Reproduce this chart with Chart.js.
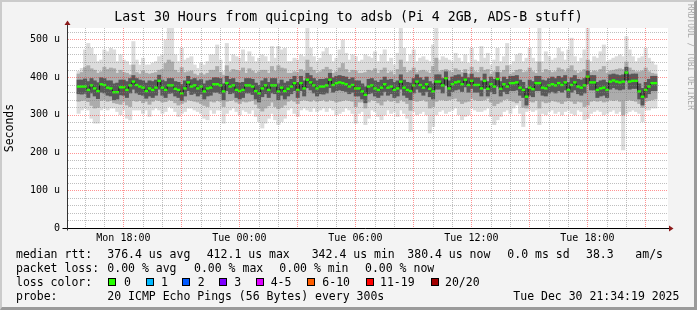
<!DOCTYPE html>
<html><head><meta charset="utf-8">
<script src="https://cdn.jsdelivr.net/npm/chart.js@4.4.1/dist/chart.umd.min.js"></script>
<style>
html,body{margin:0;padding:0;background:#f3f3f3;}
#wrap{position:relative;width:697px;height:310px;background:#f3f3f3;overflow:hidden;}
#frame{position:absolute;left:0;top:0;width:697px;height:310px;box-sizing:border-box;border-top:2px solid #cbcbcb;border-left:2px solid #cbcbcb;border-right:3px solid #9a9a9a;border-bottom:3px solid #9a9a9a;}
#c{position:absolute;left:0;top:0;}
.t{position:absolute;font-family:'DejaVu Sans Mono',monospace;font-size:11.5px;line-height:14px;white-space:pre;color:#000;}
.b{position:absolute;width:8px;height:8px;box-sizing:border-box;border:1px solid #000;}
#rrd{position:absolute;left:685px;top:4px;writing-mode:vertical-rl;font-family:'DejaVu Sans Mono',monospace;font-size:8px;line-height:10px;color:#a8a8a8;white-space:pre;}
</style></head>
<body>
<div id="wrap">
<div id="frame"></div>
<canvas id="c" width="697" height="310" style="width:697px;height:310px"></canvas>
<div id="rrd">RRDTOOL / TOBI OETIKER</div>
<span class="t" style="left:16px;top:247px">median rtt:</span>
<span class="t" style="left:107.3px;top:247px">376.4 us avg</span>
<span class="t" style="left:206.7px;top:247px">412.1 us max</span>
<span class="t" style="left:311.7px;top:247px">342.4 us min</span>
<span class="t" style="left:407.3px;top:247px">380.4 us now</span>
<span class="t" style="left:507.3px;top:247px">0.0 ms sd</span>
<span class="t" style="left:586px;top:247px">38.3</span>
<span class="t" style="left:635.3px;top:247px">am/s</span>
<span class="t" style="left:16px;top:261px">packet loss:</span>
<span class="t" style="left:107.3px;top:261px">0.00 % avg</span>
<span class="t" style="left:194px;top:261px">0.00 % max</span>
<span class="t" style="left:279.3px;top:261px">0.00 % min</span>
<span class="t" style="left:365px;top:261px">0.00 % now</span>
<span class="t" style="left:16px;top:275px">loss color:</span>
<span class="b" style="left:108px;top:278px;background:#26ff00"></span><span class="t" style="left:124px;top:275px">0</span>
<span class="b" style="left:145.5px;top:278px;background:#00b8ff"></span><span class="t" style="left:161px;top:275px">1</span>
<span class="b" style="left:182px;top:278px;background:#0059ff"></span><span class="t" style="left:197.7px;top:275px">2</span>
<span class="b" style="left:219px;top:278px;background:#7e00ff"></span><span class="t" style="left:234.3px;top:275px">3</span>
<span class="b" style="left:255.5px;top:278px;background:#dd00ff"></span><span class="t" style="left:270.7px;top:275px">4-5</span>
<span class="b" style="left:307px;top:278px;background:#ff5e00"></span><span class="t" style="left:322.3px;top:275px">6-10</span>
<span class="b" style="left:365.5px;top:278px;background:#ff0000"></span><span class="t" style="left:380px;top:275px">11-19</span>
<span class="b" style="left:431px;top:278px;background:#a10000"></span><span class="t" style="left:445px;top:275px">20/20</span>
<span class="t" style="left:16px;top:289px">probe:</span>
<span class="t" style="left:107.3px;top:289px">20 ICMP Echo Pings (56 Bytes) every 300s</span>
<span class="t" style="left:513.3px;top:289px">Tue Dec 30 21:34:19 2025</span>
</div>
<script>
// time axis: hours since Mon 00:00
const START = 15.6;   // Mon 15:36
const HOURS = 30;
const STEP = 1/6;     // 10 minute intervals
const xTickValues = [18, 24, 30, 36, 42];
const xTickLabels = ['Mon 18:00', 'Tue 00:00', 'Tue 06:00', 'Tue 12:00', 'Tue 18:00'];
const yTickValues = [0, 100, 200, 300, 400, 500];
const yTickLabels = ['0', '100 u', '200 u', '300 u', '400 u', '500 u'];

// median RTT (microseconds)
const median = [
375,375,375,366,378,370,363,381,379,372,370,360,360,373,373,366,378,388,379,375,372,363,370,366,372,390,372,366,378,378,369,366,357,370,386,375,378,370,375,362,370,372,381,381,378,
362,384,375,378,366,363,366,378,378,375,363,357,370,378,366,378,378,362,372,363,369,375,384,366,384,370,393,386,378,370,375,375,378,393,379,384,386,384,381,375,379,370,370,362,353,
375,378,370,366,372,381,372,375,366,370,388,372,366,363,378,388,379,372,381,369,362,388,388,378,397,370,381,386,388,381,393,379,390,379,379,370,390,369,381,375,395,369,381,375,384,
384,386,372,366,348,372,368,384,384,372,370,378,381,378,384,379,386,366,379,386,375,372,378,401,386,386,366,370,372,366,388,391,388,386,388,412,388,390,390,362,348,366,375,384,384];

// smoke: outer (min/max)
const lightHi = [
415,423,472,489,476,459,441,445,472,467,476,472,441,459,445,441,432,494,445,432,450,432,432,437,441,454,459,498,530,530,459,441,476,445,450,454,432,423,437,432,441,459,459,485,445,
415,489,441,459,454,450,472,441,467,454,441,450,459,454,441,481,450,481,472,476,441,441,450,445,459,454,530,476,454,441,450,467,476,459,441,450,472,498,463,445,459,454,441,445,459,
454,450,467,441,459,472,441,450,432,463,530,476,441,459,472,441,450,454,445,441,485,530,445,454,450,445,441,463,450,441,459,437,476,445,441,481,450,463,432,445,476,441,454,489,432,
441,459,463,441,450,476,450,441,530,441,467,454,445,450,476,467,445,472,503,454,441,450,472,530,441,454,450,467,485,441,445,450,454,459,454,507,472,454,441,450,454,476,450,441,432];
const lightLo = [
304,313,318,313,291,278,278,313,318,313,318,318,309,300,313,291,287,313,313,313,304,313,296,313,318,313,304,309,322,318,309,296,304,309,318,318,313,309,304,291,287,313,304,313,313,
278,304,313,318,309,300,313,309,304,313,296,282,265,278,291,304,287,274,282,291,313,318,304,296,313,318,313,309,318,309,313,318,309,318,313,300,304,309,318,313,304,278,304,309,274,
291,313,309,296,287,300,313,304,309,296,313,304,291,256,309,300,304,309,300,252,269,300,309,313,304,309,313,318,300,287,296,300,318,313,309,309,313,318,296,274,287,296,309,313,304,
318,326,304,269,309,313,309,313,274,304,300,309,313,304,309,300,309,313,304,300,313,309,287,291,304,309,313,309,300,304,309,313,304,309,207,304,309,313,309,304,282,313,313,318,318];

// smoke: middle
const midHi = [
408,412,425,430,422,418,410,414,426,420,424,422,410,418,412,410,406,432,412,408,416,410,408,410,412,418,420,436,445,440,418,412,425,412,414,416,408,404,410,406,410,418,418,428,412,
405,430,414,420,418,415,424,410,422,416,410,414,418,418,410,428,416,430,424,422,410,410,414,412,420,416,445,426,418,410,414,420,426,420,410,414,424,436,420,412,418,416,410,410,412,
418,416,422,410,418,424,410,414,406,420,445,426,412,416,424,412,416,418,414,410,428,450,414,418,420,416,412,422,418,412,420,408,426,414,412,426,418,420,408,414,428,412,418,430,408,
412,418,420,412,414,424,414,410,440,412,420,416,412,414,424,420,414,422,430,416,410,414,420,445,412,416,414,420,428,410,416,418,420,422,420,440,424,418,414,414,416,424,414,410,408];
const midLo = [
336,338,340,335,325,318,320,338,340,336,338,332,330,328,336,326,322,338,336,338,332,336,328,336,340,338,334,335,340,338,332,326,330,334,340,338,336,334,330,325,322,336,334,338,336,
322,336,338,340,334,330,336,334,336,338,328,318,310,318,324,334,322,316,320,326,336,340,336,330,338,340,338,336,340,336,338,340,336,340,338,334,336,338,340,338,336,322,334,334,318,
334,340,338,332,326,336,340,336,338,332,340,336,330,312,338,336,338,340,336,318,322,336,340,340,338,340,342,344,336,330,334,336,344,340,338,338,340,344,334,324,330,334,340,342,338,
336,332,338,320,318,336,334,338,318,336,332,334,338,336,334,330,336,338,336,330,336,334,322,326,336,338,336,338,334,336,340,338,340,336,300,338,340,338,336,330,320,336,338,340,342];

// smoke: inner (dark)
const darkHi = [
392,392,395,388,396,390,385,398,396,390,390,382,384,392,392,388,396,404,396,392,390,384,390,388,392,405,392,388,396,396,388,386,380,390,402,393,396,390,393,382,390,392,398,398,396,
382,402,394,396,386,384,386,396,396,394,384,378,390,396,386,396,396,382,392,384,388,394,402,386,402,390,410,404,396,390,394,394,396,410,398,402,404,402,400,394,398,390,390,382,374,
394,396,390,386,392,400,392,394,386,390,406,392,386,384,396,406,398,392,400,388,382,406,406,396,414,390,400,404,406,400,410,398,408,398,398,390,408,388,400,394,412,388,400,394,402,
402,404,392,386,370,392,388,402,402,392,390,396,400,396,402,398,404,386,398,404,394,392,396,416,404,404,386,390,392,386,406,408,406,404,406,426,406,408,408,382,370,386,394,402,402];
const darkLo = [
356,355,357,346,358,350,343,360,358,352,350,340,342,353,352,346,358,368,358,354,352,344,350,346,352,368,352,346,357,358,350,346,338,350,364,354,357,350,355,342,350,352,360,360,357,
340,364,356,358,346,342,346,358,358,354,342,334,348,356,346,358,356,340,352,342,350,356,364,346,364,350,372,366,358,350,356,355,358,372,360,364,366,364,362,356,360,350,350,342,332,
356,358,350,346,352,362,352,356,346,350,368,352,346,340,358,368,360,352,362,348,342,368,368,358,378,350,362,366,368,362,374,360,370,360,360,350,370,350,362,356,376,350,362,356,364,
364,366,352,346,326,352,348,364,364,352,350,358,362,358,364,360,366,346,360,366,356,352,358,382,366,366,346,350,352,346,368,372,368,366,368,392,368,370,370,342,326,346,356,364,364];

const times = median.map((_, i) => START + (i + 0.5) * STEP);
const FONT = 'DejaVu Sans Mono';
const MAJOR = 'rgba(255,0,0,0.42)';
const MINOR = 'rgba(128,128,128,0.5)';

// grid ticks: every hour on x, every 20 us on y
const xGridTicks = [];
for (let h = Math.ceil(START); h <= START + HOURS; h++) xGridTicks.push(h);
const yGridTicks = [];
for (let v = 0; v <= 520; v += 20) yGridTicks.push(v);

function band(lo, hi, color, order) {
  return {
    type: 'bar', order: order, backgroundColor: color, borderWidth: 0,
    barPercentage: 1, categoryPercentage: 1, grouped: false, inflateAmount: 0.4,
    data: times.map((t, i) => ({x: t, y: [lo[i], hi[i]]}))
  };
}

function dotted(ctx, x1, y1, x2, y2, color) {
  ctx.strokeStyle = color;
  ctx.beginPath(); ctx.moveTo(x1, y1); ctx.lineTo(x2, y2); ctx.stroke();
}

// white canvas; RRD-style dotted grid painted over the smoke; axes and arrows
const deco = {
  id: 'deco',
  beforeDatasetsDraw(chart) {
    const {ctx, chartArea: a} = chart;
    ctx.save();
    ctx.fillStyle = '#ffffff';
    ctx.fillRect(a.left, a.top, a.right - a.left + 1, a.bottom - a.top);
    ctx.restore();
  },
  afterDraw(chart) {
    const {ctx, chartArea: a, scales} = chart;
    const top = Math.round(a.top), bot = Math.round(a.bottom);
    ctx.save();
    ctx.lineWidth = 1;
    ctx.setLineDash([1, 1]);
    const sx = scales.x, sy = scales.y;
    xGridTicks.forEach(h => {
      const px = Math.round(sx.getPixelForValue(h)) + 0.5;
      dotted(ctx, px, top, px, bot, h % 3 === 0 ? MAJOR : MINOR);
    });
    yGridTicks.forEach(v => {
      if (v === 0) return;
      const py = Math.round(sy.getPixelForValue(v)) + 0.5;
      dotted(ctx, Math.round(a.left) + 1, py, Math.round(a.right), py, v % 100 === 0 ? MAJOR : MINOR);
    });
    ctx.restore();

    const xl = Math.round(a.left) + 0.5, yb = Math.round(a.bottom) + 0.5;
    ctx.save();
    ctx.setLineDash([]);
    ctx.lineWidth = 1;
    ctx.strokeStyle = '#000';
    ctx.beginPath();
    ctx.moveTo(xl - 5, yb); ctx.lineTo(a.right + 2, yb);
    ctx.stroke();
    ctx.strokeStyle = '#333';
    ctx.beginPath();
    ctx.moveTo(xl, yb + 2); ctx.lineTo(xl, a.top - 3);
    ctx.stroke();
    ctx.fillStyle = '#8b1a1a';
    ctx.beginPath();
    ctx.moveTo(xl - 3, a.top - 3); ctx.lineTo(xl + 3, a.top - 3); ctx.lineTo(xl, a.top - 7.5);
    ctx.closePath(); ctx.fill();
    ctx.beginPath();
    ctx.moveTo(a.right + 2, yb - 3); ctx.lineTo(a.right + 2, yb + 3); ctx.lineTo(a.right + 6.5, yb);
    ctx.closePath(); ctx.fill();
    ctx.restore();
  }
};

new Chart(document.getElementById('c'), {
  type: 'bar',
  data: {
    datasets: [
      {
        type: 'line', order: 0, showLine: false,
        pointStyle: 'line', pointRadius: 1.8, pointHoverRadius: 1.8, pointBorderWidth: 2.4,
        pointBorderColor: '#26ff00', borderColor: '#26ff00', backgroundColor: '#26ff00',
        data: times.map((t, i) => ({x: t, y: median[i]}))
      },
      {
        type: 'line', order: 1, stepped: 'middle', borderColor: '#1a1a1a', borderWidth: 1,
        pointRadius: 0, fill: false,
        data: times.map((t, i) => ({x: t, y: median[i]}))
      },
      band(darkLo, darkHi, '#585858', 2),
      band(midLo, midHi, '#acacac', 3),
      band(lightLo, lightHi, '#dcdcdc', 4)
    ]
  },
  options: {
    responsive: false, animation: false,
    layout: {padding: {left: 0, right: 0, top: 0, bottom: 62}},
    plugins: {
      legend: {display: false}, tooltip: {enabled: false},
      title: {display: true, text: 'Last 30 Hours from quicping to adsb (Pi 4 2GB, ADS-B stuff)',
        color: '#000', font: {family: FONT, size: 13.2, weight: 'normal', lineHeight: 1.2},
        padding: {top: 10.1, bottom: 2.1}}
    },
    scales: {
      x: {
        type: 'linear', min: START, max: START + HOURS,
        afterBuildTicks: s => { s.ticks = xGridTicks.map(v => ({value: v})); },
        afterFit: s => { s.height = 20; },
        grid: {display: false, drawTicks: false},
        border: {display: false},
        ticks: {padding: 4, maxRotation: 0, autoSkip: false, color: '#000', font: {family: FONT, size: 10},
          callback: v => { const k = xTickValues.indexOf(v); return k >= 0 ? xTickLabels[k] : ''; }}
      },
      y: {
        min: 0, max: 530,
        afterBuildTicks: s => { s.ticks = yGridTicks.map(v => ({value: v})); },
        afterFit: s => { s.width = 67; },
        grid: {display: false, drawTicks: false},
        border: {display: false},
        ticks: {padding: 7, autoSkip: false, color: '#000', font: {family: FONT, size: 10},
          callback: v => { const k = yTickValues.indexOf(v); return k >= 0 ? yTickLabels[k] : ''; }},
        title: {display: true, text: 'Seconds', color: '#000', font: {family: FONT, size: 11.5}, padding: {top: 3, bottom: 0}}
      },
      y2: {
        position: 'right', display: true,
        afterFit: s => { s.width = 30; },
        grid: {display: false}, ticks: {display: false}, border: {display: false}
      }
    }
  },
  plugins: [deco]
});
</script>
</body></html>
